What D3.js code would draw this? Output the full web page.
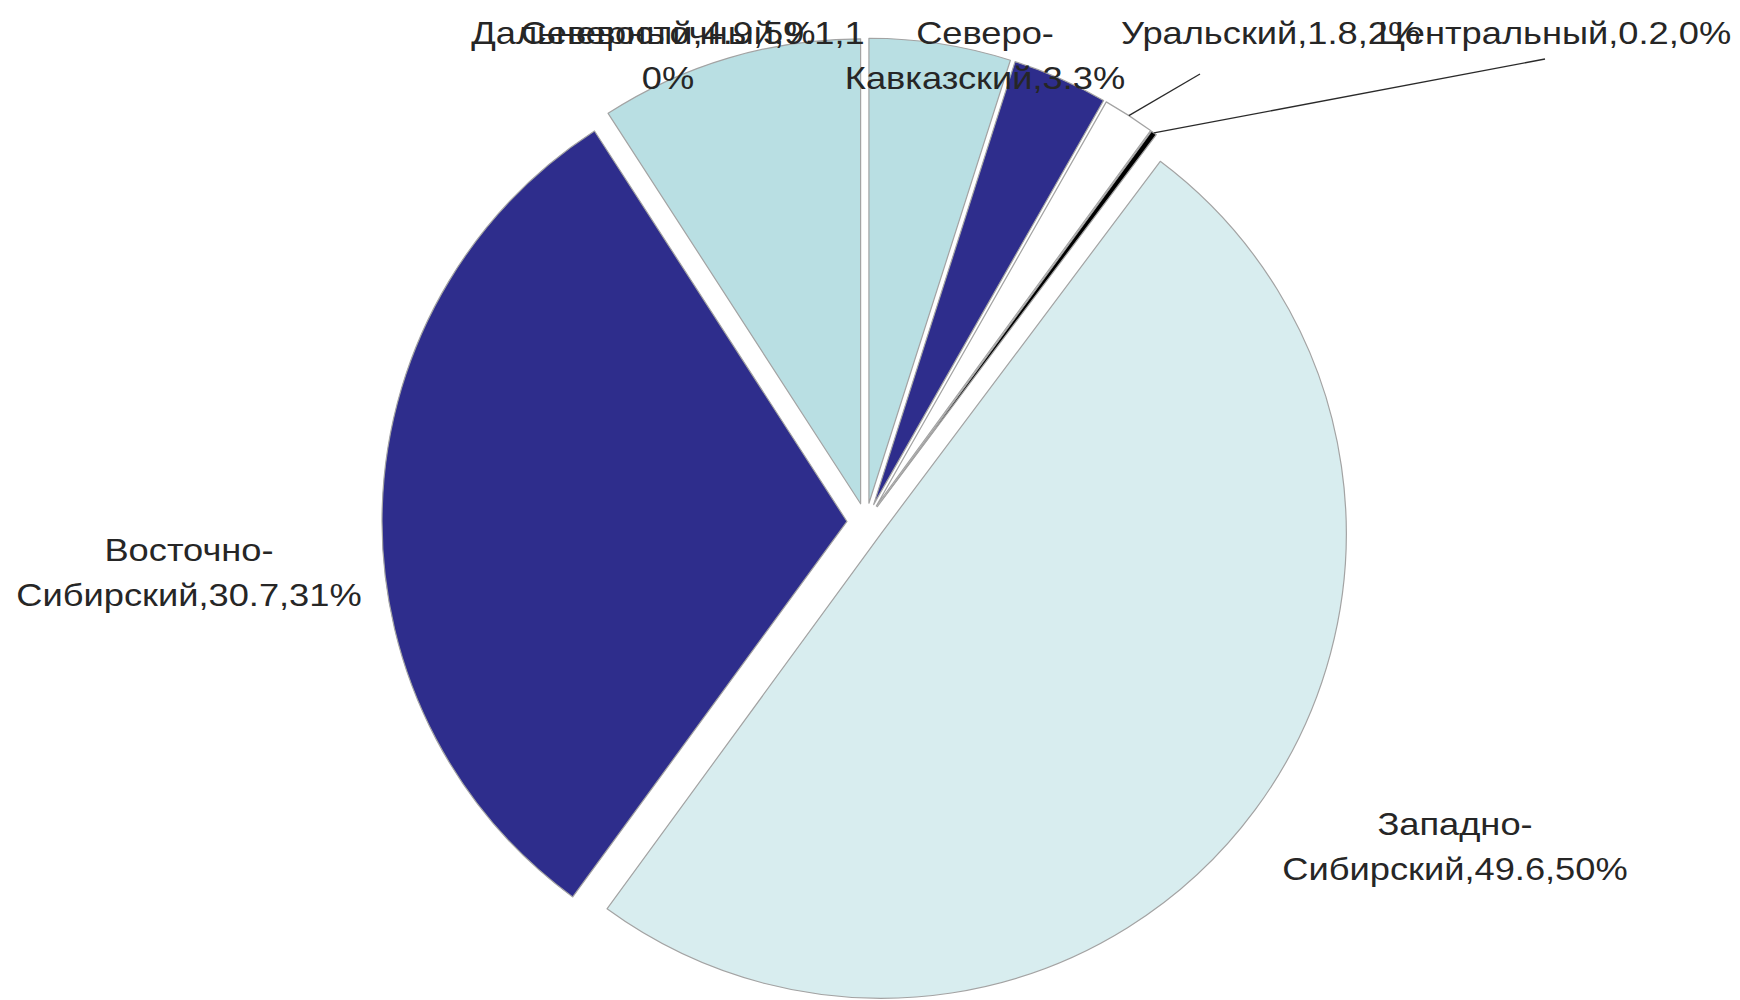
<!DOCTYPE html>
<html>
<head>
<meta charset="utf-8">
<script src="https://cdn.jsdelivr.net/npm/d3@7"></script>
<style>
  html, body { margin: 0; padding: 0; background: #ffffff; }
  .slice-label { font-family: "Liberation Sans", Arial, sans-serif; font-size: 31px; fill: #262626; }
</style>
</head>
<body>
<div id="chart"></div>
<script>
// Exploded pie: regional shares (clockwise from 12 o'clock)
const regions = ['Северный', 'Северо-Кавказский', 'Уральский', 'Центральный',
                 'Западно-Сибирский', 'Восточно-Сибирский', 'Дальневосточный'];
const values = [4.9, 3.3, 1.8, 0.2, 49.6, 30.7, 9.1];
const labelLines = [
    ['Северный,4.9,5%'],
    ['Северо-', 'Кавказский,3.3%'],
    ['Уральский,1.8,2%'],
    ['Центральный,0.2,0%'],
    ['Западно-', 'Сибирский,49.6,50%'],
    ['Восточно-', 'Сибирский,30.7,31%'],
    ['Дальневосточный,9.1,1', '0%']
];
const colors = ['#b9dfe3', '#2e2d8c', '#ffffff', '#000000', '#d8edef', '#2e2d8c', '#b9dfe3'];

// label placement (x, first baseline, anchor, leader start or null)
const labelPos = [
    { x: 668, y: 44, anchor: 'middle', leader: null },
    { x: 985, y: 44, anchor: 'middle', leader: null },
    { x: 1121, y: 44, anchor: 'start', leader: [1200, 74] },
    { x: 1378, y: 44, anchor: 'start', leader: [1545, 59] },
    { x: 1455, y: 835, anchor: 'middle', leader: null },
    { x: 189, y: 561, anchor: 'middle', leader: null },
    { x: 668, y: 44, anchor: 'middle', leader: null }
];

const width = 1740, height = 1000;
const cx = 866, cy = 522, radius = 465, explode = 19;
const lineHeight = 45, stretch = 1.17;

const svg = d3.select('#chart')
    .append('svg')
    .attr('width', width)
    .attr('height', height);

const data = regions.map((r, i) => ({ name: r, value: values[i], i: i }));

const pie = d3.pie()
    .sort(null)
    .value(d => d.value);

const arc = d3.arc()
    .innerRadius(0)
    .outerRadius(radius);

const rim = d3.arc()
    .innerRadius(radius)
    .outerRadius(radius);

const arcs = pie(data);

// offset of each exploded slice
function shift(d) {
    const a = (d.startAngle + d.endAngle) / 2;
    return [explode * Math.sin(a), -explode * Math.cos(a)];
}

const g = svg.append('g')
    .attr('transform', `translate(${cx}, ${cy})`);

g.selectAll('.slice')
    .data(arcs)
    .enter()
    .append('path')
    .attr('class', 'slice')
    .attr('d', arc)
    .attr('transform', d => `translate(${shift(d)})`)
    .attr('fill', d => colors[d.data.i])
    .attr('stroke', '#a3a3a3')
    .attr('stroke-width', 1.2)
    .attr('stroke-linejoin', 'round');

// leader lines for the thin slices
arcs.forEach(d => {
    const p = labelPos[d.data.i];
    if (!p.leader) return;
    const off = shift(d);
    const end = rim.centroid(d);
    svg.append('line')
        .attr('x1', p.leader[0])
        .attr('y1', p.leader[1])
        .attr('x2', cx + off[0] + end[0])
        .attr('y2', cy + off[1] + end[1])
        .attr('stroke', '#2a2a2a')
        .attr('stroke-width', 1.3);
});

// data labels
const labels = svg.selectAll('.slice-label')
    .data(arcs)
    .enter()
    .append('text')
    .attr('class', 'slice-label')
    .attr('text-anchor', d => labelPos[d.data.i].anchor)
    .attr('transform', d => {
        const p = labelPos[d.data.i];
        return `translate(${p.x}, ${p.y}) scale(${stretch}, 1)`;
    });

labels.selectAll('tspan')
    .data(d => labelLines[d.data.i])
    .enter()
    .append('tspan')
    .attr('x', 0)
    .attr('y', (t, k) => k * lineHeight)
    .text(t => t);
</script>
</body>
</html>
